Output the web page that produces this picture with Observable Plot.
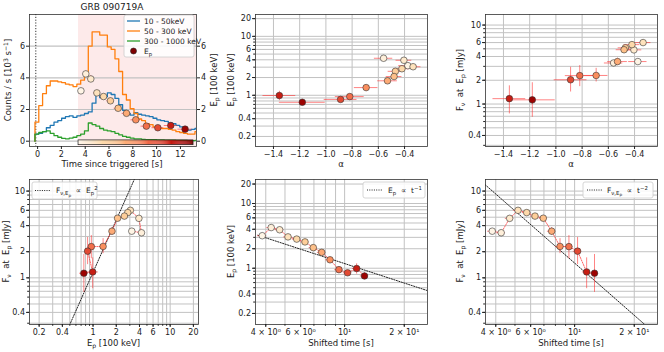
<!DOCTYPE html>
<html><head><meta charset="utf-8">
<script src="https://cdn.jsdelivr.net/npm/d3@7"></script>
<script src="https://cdn.jsdelivr.net/npm/@observablehq/plot@0.6"></script>
<style>
body{margin:0;background:#fff;}
#c{position:relative;width:664px;height:352px;}
#c svg{position:absolute;left:0;top:0;}
</style></head><body><div id="c"></div>
<script>
// ================= DATA =================
// light curves (counts / s, 10^3 s^-1) – bin edges [s since trigger]
const lcEdges = [-0.22, 0.10, 0.42, 0.74, 1.06, 1.38, 1.70, 2.02, 2.34, 2.66, 2.98, 3.30, 3.62, 3.94, 4.26, 4.58, 4.90, 5.22, 5.54, 5.86, 6.18, 6.50, 6.82, 7.14, 7.46, 7.78, 8.10, 8.42, 8.74, 9.06, 9.38, 9.70, 10.02, 10.34, 10.66, 10.98, 11.30, 11.62, 11.94, 12.26, 12.58, 12.90, 13.22, 13.54];
const lc10to50 = [0.45, 0.5, 0.6, 0.85, 1.0, 1.2, 1.3, 1.45, 1.55, 1.6, 1.5, 1.6, 1.65, 1.75, 1.85, 2.4, 2.9, 2.75, 2.8, 3.05, 2.95, 2.7, 2.3, 1.95, 1.75, 1.65, 1.8, 1.7, 1.65, 1.6, 1.55, 1.45, 1.35, 1.3, 1.25, 1.15, 1.1, 1.0, 0.9, 0.85, 0.7, 0.75, 0.8];
const lc50to300 = [1.2, 2.25, 3.0, 3.5, 3.8, 3.8, 3.75, 3.7, 3.6, 3.55, 3.45, 3.6, 3.85, 4.2, 6.0, 6.9, 6.9, 6.7, 6.7, 5.95, 5.8, 5.2, 4.4, 2.95, 2.6, 2.05, 1.75, 1.4, 1.3, 1.1, 1.05, 0.9, 0.85, 0.8, 0.8, 0.75, 0.7, 0.6, 0.55, 0.5, 0.45, 0.45, 0.6];
const lc300to1000 = [0.45, 0.55, 0.6, 0.65, 0.5, 0.35, 0.25, 0.18, 0.15, 0.2, 0.25, 0.35, 0.45, 0.65, 1.15, 1.05, 0.95, 0.8, 0.7, 0.65, 0.6, 0.5, 0.4, 0.3, 0.25, 0.2, 0.15, 0.15, 0.12, 0.1, 0.1, 0.1, 0.08, 0.08, 0.07, 0.06, 0.06, 0.05, 0.05, 0.05, 0.04, 0.04, 0.05];

// time-resolved spectral fits
const epTime      = [3.64, 4.05, 4.47, 4.98, 5.54, 6.12, 6.77, 7.47, 8.25, 9.14, 10.10, 11.19, 12.39];
const epTimeErr   = [0.20, 0.21, 0.23, 0.25, 0.28, 0.30, 0.33, 0.37, 0.41, 0.45, 0.50, 0.55, 0.60];
const shiftedTime = [3.84, 4.26, 4.70, 5.18, 5.73, 6.31, 6.95, 7.66, 8.44, 9.36, 10.35, 11.50, 12.60];
const epValue     = [3.18, 4.25, 3.93, 3.05, 2.82, 2.55, 2.08, 1.76, 1.35, 0.95, 0.85, 0.99, 0.76];
const epErr       = [0.12, 0.18, 0.20, 0.12, 0.12, 0.12, 0.10, 0.10, 0.10, 0.08, 0.07, 0.18, 0.09];
const alphaValue  = [-0.375, -0.56, -0.405, -0.335, -0.42, -0.47, -0.48, -0.53, -0.693, -0.818, -0.888, -1.355, -1.18];
const alphaErr    = [0.07, 0.07, 0.06, 0.06, 0.06, 0.055, 0.06, 0.075, 0.09, 0.11, 0.125, 0.125, 0.175];
const fluxValue   = [3.45, 3.31, 4.85, 6.0, 5.65, 5.15, 4.87, 3.45, 2.3, 2.29, 2.03, 1.17, 1.13];
const fluxLo      = [3.25, 3.10, 4.55, 5.7, 5.35, 4.85, 4.55, 3.10, 1.9, 1.66, 1.42, 0.75, 0.68];
const fluxHi      = [3.65, 3.50, 5.15, 6.3, 5.95, 5.45, 5.20, 3.80, 2.83, 3.07, 2.92, 1.70, 1.86];

const shadeStart = 3.44, cbStart = 3.44, cbEnd = 13.1, triggerLine = -0.15;
const fluxEpNorm = 1.16, epTimeNorm = 11.8, fluxTimeNorm = 148;

// tick labels
const lcTicksX = [0, 2, 4, 6, 8, 10, 12];
const lcTicksY = [0, 2, 4, 6];
const alphaTicks = [-1.4, -1.2, -1.0, -0.8, -0.6, -0.4];
const epTicks = [0.2, 0.4, 1, 2, 4, 6, 10, 20];
const epGrid = [0.2,0.3,0.4,0.5,0.6,0.7,0.8,0.9,1,2,3,4,5,6,7,8,9,10,20];
const fluxTicks = [0.4, 1, 2, 4, 6, 10];
const fluxGrid = [0.3,0.4,0.5,0.6,0.7,0.8,0.9,1,2,3,4,5,6,7,8,9,10];
const timeTicks = [4, 6, 10, 20];
const timeTickLabels = ["4 × 10⁰", "6 × 10⁰", "10¹", "2 × 10¹"];
const timeGrid = [4,5,6,7,8,9,10,20];

// ================= HELPERS =================
const W = 664, H = 352, FONT = '"DejaVu Sans", sans-serif';
const TXT = "#222", ERR = "#ff3030", TICKFS = 8, LABFS = 8.5;
const pts = epTime.map((t, i) => ({
  i, t, tLo: t - epTimeErr[i], tHi: t + epTimeErr[i],
  ts: shiftedTime[i], tsLo: shiftedTime[i] - epTimeErr[i], tsHi: shiftedTime[i] + epTimeErr[i],
  ep: epValue[i], epLo: epValue[i] - epErr[i], epHi: epValue[i] + epErr[i],
  a: alphaValue[i], aLo: alphaValue[i] - alphaErr[i], aHi: alphaValue[i] + alphaErr[i],
  f: fluxValue[i], fLo: fluxLo[i], fHi: fluxHi[i]
}));
const colorOpt = {type: "sequential", scheme: "OrRd", domain: [cbStart, cbEnd]};
const container = document.getElementById("c");
const minus = s => s.replace("-", "−");

function panel(frame, x, y, marks) {
  const [l, r, t, b] = frame;
  const svg = Plot.plot({
    width: W, height: H,
    marginLeft: l, marginRight: W - r, marginTop: t, marginBottom: H - b,
    x, y, color: colorOpt,
    style: {background: "transparent", fontFamily: FONT, fontSize: "8px", color: TXT, overflow: "visible"},
    marks
  });
  container.appendChild(svg);
  return svg;
}
function xAxis(ticks, fmt, minor) {
  const m = [
    Plot.axisX(ticks, {anchor: "bottom", tickSize: 3, fill: "none", label: null}),
    Plot.text(ticks, {x: d => d, frameAnchor: "bottom", dy: 4.5, lineAnchor: "top", text: fmt, fontSize: TICKFS, fill: TXT})
  ];
  if (minor) m.push(Plot.axisX(minor, {anchor: "bottom", tickSize: 1.8, fill: "none", label: null}));
  return m;
}
function yAxis(ticks, fmt, minor, side = "left") {
  const left = side === "left";
  const m = [
    Plot.axisY(ticks, {anchor: side, tickSize: 3, fill: "none", label: null}),
    Plot.text(ticks, {y: d => d, frameAnchor: side, dx: left ? -4.5 : 4.5, textAnchor: left ? "end" : "start", text: fmt, fontSize: TICKFS, fill: TXT})
  ];
  if (minor) m.push(Plot.axisY(minor, {anchor: side, tickSize: 1.8, fill: "none", label: null}));
  return m;
}
function rich(svg, x, y, parts, {rotate = 0, anchor = "middle", size = LABFS} = {}) {
  const t = d3.select(svg).append("text")
    .attr("transform", `translate(${x},${y}) rotate(${rotate})`)
    .attr("text-anchor", anchor).attr("font-size", size)
    .attr("font-family", FONT).attr("fill", TXT);
  let shift = 0;
  for (const p of parts) {
    const [s, k] = typeof p === "string" ? [p, ""] : p;
    const off = k === "sub" ? size * 0.25 : k === "subsub" ? size * 0.45 : k === "sup" ? -size * 0.4 : 0;
    const fs = k === "subsub" ? size * 0.55 : k ? size * 0.72 : size;
    t.append("tspan").attr("dy", off - shift).attr("font-size", fs).text(s);
    shift = off;
  }
}
function box(svg, x, y, w, h) {
  d3.select(svg).append("rect").attr("x", x).attr("y", y).attr("width", w).attr("height", h).attr("rx", 2)
    .attr("fill", "#fff").attr("fill-opacity", 0.85).attr("stroke", "#ccc").attr("stroke-width", 0.8);
}
function sample(svg, x1, x2, y, color, dash, width = 1.3) {
  const l = d3.select(svg).append("line").attr("x1", x1).attr("x2", x2).attr("y1", y).attr("y2", y)
    .attr("stroke", color).attr("stroke-width", width);
  if (dash) l.attr("stroke-dasharray", dash);
}
const gridMarks = (xs, ys) => [
  ...(xs ? [Plot.ruleX(xs, {stroke: "#c2c2c2", strokeWidth: 1})] : []),
  ...(ys ? [Plot.ruleY(ys, {stroke: "#c2c2c2", strokeWidth: 1})] : [])
];
const errMarks = (x, xLo, xHi, y, yLo, yHi) => [
  Plot.ruleY(pts, {y, x1: xLo, x2: xHi, stroke: ERR, strokeWidth: 0.8, strokeOpacity: 0.75}),
  Plot.ruleX(pts, {x, y1: yLo, y2: yHi, stroke: ERR, strokeWidth: 0.8, strokeOpacity: 0.75})
];
const dotMark = (x, y) => Plot.dot(pts, {x, y, r: 3.3, fill: "t", stroke: "#333", strokeWidth: 0.6});
const connect = (x, y) => Plot.line(pts, {x, y, stroke: ERR, strokeWidth: 0.9, strokeDasharray: "1.3,1.3", strokeOpacity: 0.85});
const frameMark = Plot.frame({stroke: "#333", strokeWidth: 0.8});
const fmtNum = d => String(d);
const fmtAlpha = d => minus(d.toFixed(1));
const fmtTime = d => timeTickLabels[timeTicks.indexOf(d)];

// ================= PANEL 1: light curve =================
function stepData(vals) {
  const d = [{x: lcEdges[0], y: 0}];
  vals.forEach((v, i) => d.push({x: lcEdges[i], y: v}));
  d.push({x: lcEdges[vals.length], y: vals[vals.length - 1]});
  return d;
}
const p1x = [-0.68, 13.35], p1y = [-0.335, 8.0];
const cbSlices = d3.range(120).map(i => cbStart + (cbEnd - cbStart) * i / 120);
const cbStep = (cbEnd - cbStart) / 120;
const series = [
  {name: "10 - 50keV", color: "#1f77b4", vals: lc10to50},
  {name: "50 - 300 keV", color: "#ff7f0e", vals: lc50to300},
  {name: "300 - 1000 keV", color: "#2ca02c", vals: lc300to1000}
];
const s1 = panel([29, 196, 14, 146],
  {domain: p1x}, {domain: p1y},
  [
    Plot.rect([shadeStart], {x1: d => d, x2: p1x[1], y1: p1y[0], y2: p1y[1], fill: "#fdeaea"}),
    Plot.ruleY(lcTicksY, {stroke: "#c2c2c2", strokeWidth: 1.2}),
    Plot.ruleX([triggerLine], {stroke: "#333", strokeDasharray: "1.2,1.6", strokeWidth: 1}),
    ...series.map(s => Plot.line(stepData(s.vals), {x: "x", y: "y", curve: "step-after", stroke: s.color, strokeWidth: 1.3, clip: true})),
    Plot.rect(cbSlices, {x1: d => d, x2: d => d + cbStep * 1.05, y1: -0.25, y2: 0.05, fill: d => d + cbStep / 2}),
    Plot.rect([0], {x1: cbStart, x2: cbEnd, y1: -0.25, y2: 0.05, fill: "none", stroke: "#222", strokeWidth: 0.7}),
    ...errMarks("t", "tLo", "tHi", "ep", "epLo", "epHi"),
    dotMark("t", "ep"),
    frameMark,
    ...xAxis(lcTicksX, fmtNum),
    ...yAxis(lcTicksY, fmtNum),
    ...yAxis(lcTicksY, fmtNum, null, "right")
  ]);
rich(s1, 112, 10, ["GRB 090719A"], {size: 9});
rich(s1, 112, 167, ["Time since triggered [s]"]);
rich(s1, 11, 80, ["Counts / s [10", ["3", "sup"], " s", ["−1", "sup"], "]"], {rotate: -90});
rich(s1, 217, 80, ["E", ["p", "sub"], " [100 keV]"], {rotate: -90});
box(s1, 124, 15, 70, 42);
series.forEach((s, k) => {
  const yy = 21 + k * 10;
  sample(s1, 127, 140, yy, s.color);
  rich(s1, 144, yy + 2.8, [s.name], {anchor: "start", size: 7.5});
});
d3.select(s1).append("circle").attr("cx", 133.5).attr("cy", 51).attr("r", 3).attr("fill", "#7f0000").attr("stroke", "#222").attr("stroke-width", 0.6);
rich(s1, 144, 53.8, ["E", ["p", "sub"]], {anchor: "start", size: 7.5});

// ================= PANEL 2: Ep vs alpha =================
const alphaDom = [-1.537, -0.225], epDom = [0.135, 23.5], fluxDom = [0.29, 13.6], timeDom = [3.55, 26.2];
const s2 = panel([255, 427, 14, 146],
  {domain: alphaDom}, {type: "log", domain: epDom},
  [
    ...gridMarks(alphaTicks, epGrid),
    ...errMarks("a", "aLo", "aHi", "ep", "epLo", "epHi"),
    dotMark("a", "ep"),
    frameMark,
    ...xAxis(alphaTicks, fmtAlpha),
    ...yAxis(epTicks, fmtNum, epGrid)
  ]);
rich(s2, 341, 167, ["α"]);
rich(s2, 234, 80, ["E", ["p", "sub"], " [100 keV]"], {rotate: -90});

// ================= PANEL 3: F vs alpha =================
const s3 = panel([485, 657, 14, 146],
  {domain: alphaDom}, {type: "log", domain: fluxDom},
  [
    ...gridMarks(alphaTicks, fluxGrid),
    ...errMarks("a", "aLo", "aHi", "f", "fLo", "fHi"),
    dotMark("a", "f"),
    frameMark,
    ...xAxis(alphaTicks, fmtAlpha),
    ...yAxis(fluxTicks, fmtNum, fluxGrid)
  ]);
rich(s3, 571, 167, ["α"]);
rich(s3, 463, 80, ["F", ["ν", "sub"], "  at  E", ["p", "sub"], " [mJy]"], {rotate: -90});

// ================= PANEL 4: F vs Ep =================
const s4 = panel([29, 198, 179, 324],
  {type: "log", domain: [0.15, 23.3]}, {type: "log", domain: fluxDom},
  [
    ...gridMarks(epGrid, fluxGrid),
    Plot.line([0.3, 5], {x: d => d, y: d => fluxEpNorm * d * d, stroke: "#222", strokeWidth: 1, strokeDasharray: "1.2,1.4", clip: true}),
    connect("ep", "f"),
    ...errMarks("ep", "epLo", "epHi", "f", "fLo", "fHi"),
    dotMark("ep", "f"),
    frameMark,
    ...xAxis(epTicks, fmtNum, epGrid),
    ...yAxis(fluxTicks, fmtNum, fluxGrid)
  ]);
rich(s4, 113.5, 346, ["E", ["p", "sub"], " [100 keV]"]);
rich(s4, 9, 251.5, ["F", ["ν", "sub"], "  at  E", ["p", "sub"], " [mJy]"], {rotate: -90});
box(s4, 32, 182, 65, 17);
sample(s4, 35, 50, 190.5, "#222", "1,1.3", 1);
rich(s4, 56, 193.3, ["F", ["ν,E", "sub"], ["p", "subsub"], "  ∝  E", ["p", "sub"], ["2", "sup"]], {anchor: "start", size: 7.5});

// ================= PANEL 5: Ep vs shifted time =================
const s5 = panel([255, 427, 179, 324],
  {type: "log", domain: timeDom}, {type: "log", domain: epDom},
  [
    ...gridMarks(timeGrid, epGrid),
    Plot.line([3.65, 26.2], {x: d => d, y: d => epTimeNorm / d, stroke: "#222", strokeWidth: 1, strokeDasharray: "1.2,1.4", clip: true}),
    connect("ts", "ep"),
    ...errMarks("ts", "tsLo", "tsHi", "ep", "epLo", "epHi"),
    dotMark("ts", "ep"),
    frameMark,
    ...xAxis(timeTicks, fmtTime, timeGrid),
    ...yAxis(epTicks, fmtNum, epGrid)
  ]);
rich(s5, 341, 346, ["Shifted time [s]"]);
rich(s5, 234, 251.5, ["E", ["p", "sub"], " [100 keV]"], {rotate: -90});
box(s5, 363, 182, 62, 16);
sample(s5, 367, 382, 190, "#222", "1,1.3", 1);
rich(s5, 388, 192.8, ["E", ["p", "sub"], "  ∝  t", ["−1", "sup"]], {anchor: "start", size: 7.5});

// ================= PANEL 6: F vs shifted time =================
const s6 = panel([485, 657, 179, 324],
  {type: "log", domain: timeDom}, {type: "log", domain: fluxDom},
  [
    ...gridMarks(timeGrid, fluxGrid),
    Plot.line([3.3, 27], {x: d => d, y: d => fluxTimeNorm / (d * d), stroke: "#222", strokeWidth: 1, strokeDasharray: "1.2,1.4", clip: true}),
    connect("ts", "f"),
    ...errMarks("ts", "tsLo", "tsHi", "f", "fLo", "fHi"),
    dotMark("ts", "f"),
    frameMark,
    ...xAxis(timeTicks, fmtTime, timeGrid),
    ...yAxis(fluxTicks, fmtNum, fluxGrid)
  ]);
rich(s6, 571, 346, ["Shifted time [s]"]);
rich(s6, 463, 251.5, ["F", ["ν", "sub"], "  at  E", ["p", "sub"], " [mJy]"], {rotate: -90});
box(s6, 583, 182, 70, 16);
sample(s6, 587, 602, 190, "#222", "1,1.3", 1);
rich(s6, 607, 192.8, ["F", ["ν,E", "sub"], ["p", "subsub"], "  ∝  t", ["−2", "sup"]], {anchor: "start", size: 7.5});
</script></body></html>
